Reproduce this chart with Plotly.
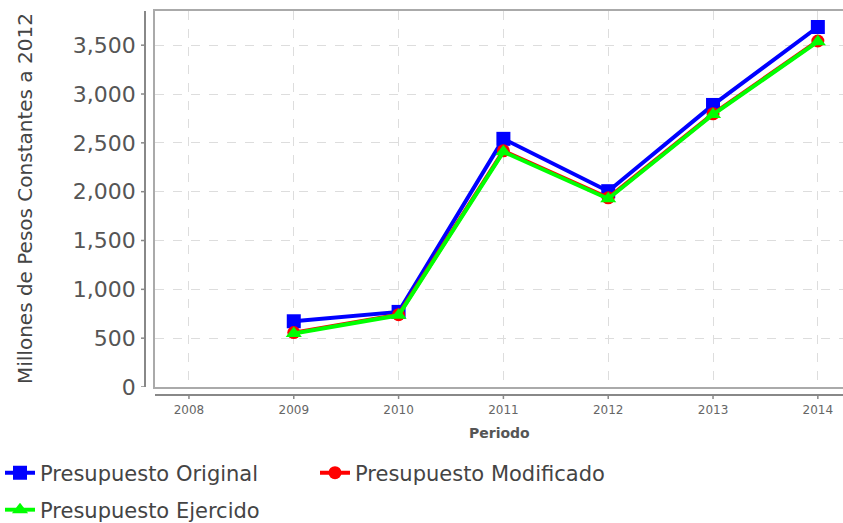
import plotly.graph_objects as go

years = [2009, 2010, 2011, 2012, 2013, 2014]
original = [673, 769, 2541, 2005, 2888, 3686]
modificado = [557, 741, 2418, 1937, 2797, 3543]
ejercido = [548, 734, 2408, 1928, 2790, 3536]

x_ticks = [2008, 2009, 2010, 2011, 2012, 2013, 2014]
y_ticks = [0, 500, 1000, 1500, 2000, 2500, 3000, 3500]
y_tick_text = ["0", "500", "1,000", "1,500", "2,000", "2,500", "3,000", "3,500"]

FONT = "DejaVu Sans"
TXT = "#555555"

fig = go.Figure()
fig.add_trace(go.Scatter(
    x=years, y=original, name="Presupuesto Original", mode="lines+markers",
    line=dict(color="#0000FF", width=4),
    marker=dict(symbol="square", size=14, color="#0000FF"), legend="legend"))
fig.add_trace(go.Scatter(
    x=years, y=modificado, name="Presupuesto Modificado", mode="lines+markers",
    line=dict(color="#FF0000", width=4),
    marker=dict(symbol="circle", size=13, color="#FF0000"), legend="legend"))
fig.add_trace(go.Scatter(
    x=years, y=ejercido, name="Presupuesto Ejercido", mode="lines+markers",
    line=dict(color="#00FF00", width=4),
    marker=dict(symbol="triangle-up", size=14, color="#00FF00"), legend="legend2"))

shapes = []
# offset y axis line and ticks
shapes.append(dict(type="line", xref="paper", yref="paper", xsizemode="pixel", xanchor=0,
                   x0=-10, x1=-10, y0=0, y1=1, line=dict(color="#888888", width=2)))
for v in y_ticks:
    shapes.append(dict(type="line", xref="paper", yref="y", xsizemode="pixel", xanchor=0,
                       x0=-14, x1=-10, y0=v, y1=v, line=dict(color="#888888", width=1.5)))
# offset x axis line and ticks
shapes.append(dict(type="line", xref="paper", yref="paper", ysizemode="pixel", yanchor=0,
                   x0=0, x1=1, y0=-8, y1=-8, line=dict(color="#888888", width=2)))
for v in x_ticks:
    shapes.append(dict(type="line", xref="x", yref="paper", ysizemode="pixel", yanchor=0,
                       x0=v, x1=v, y0=-8, y1=-12, line=dict(color="#888888", width=1.5)))

fig.update_layout(
    width=843, height=523,
    margin=dict(l=155, r=0, t=11, b=136, autoexpand=False),
    paper_bgcolor="white", plot_bgcolor="white",
    font=dict(family=FONT, color=TXT),
    shapes=shapes,
    xaxis=dict(range=[2007.676, 2014.24], tickmode="array", tickvals=x_ticks,
               ticktext=[str(v) for v in x_ticks], tickfont=dict(size=12, color="#666666"),
               showgrid=True, gridcolor="#dddddd", griddash="dash", gridwidth=1,
               showline=True, mirror=True, linecolor="#aaaaaa", linewidth=1.5,
               ticks="", ticklabelstandoff=11, zeroline=False, automargin=False),
    yaxis=dict(range=[0, 3850], tickmode="array", tickvals=y_ticks, ticktext=y_tick_text,
               tickfont=dict(size=22, color=TXT),
               showgrid=True, gridcolor="#dddddd", griddash="dash", gridwidth=1,
               showline=True, mirror=True, linecolor="#aaaaaa", linewidth=1.5,
               ticks="", ticklabelstandoff=13, zeroline=False, automargin=False),
    legend=dict(orientation="h", xref="container", yref="container", x=0,
                y=1 - 473 / 523, xanchor="left", yanchor="middle",
                font=dict(size=21, color="#444444"),
                entrywidth=270, bgcolor="rgba(0,0,0,0)"),
    legend2=dict(orientation="h", xref="container", yref="container", x=0,
                 y=1 - 510 / 523, xanchor="left", yanchor="middle",
                 font=dict(size=21, color="#444444"),
                 bgcolor="rgba(0,0,0,0)"),
    annotations=[
        dict(text="Millones de Pesos Constantes a 2012", textangle=-90, xref="paper", yref="paper",
             x=0, y=0.5, xanchor="center", yanchor="middle", xshift=-130, showarrow=False,
             font=dict(size=20, color="#444444")),
        dict(text="<b>Periodo</b>", xref="paper", yref="paper", x=0.5, y=0, xanchor="center",
             yanchor="middle", yshift=-46, showarrow=False, font=dict(size=14, color="#555555")),
    ],
    showlegend=True,
)

fig.write_html("out.html", post_script="document.body.style.margin='0';",
               config={"displayModeBar": False})
